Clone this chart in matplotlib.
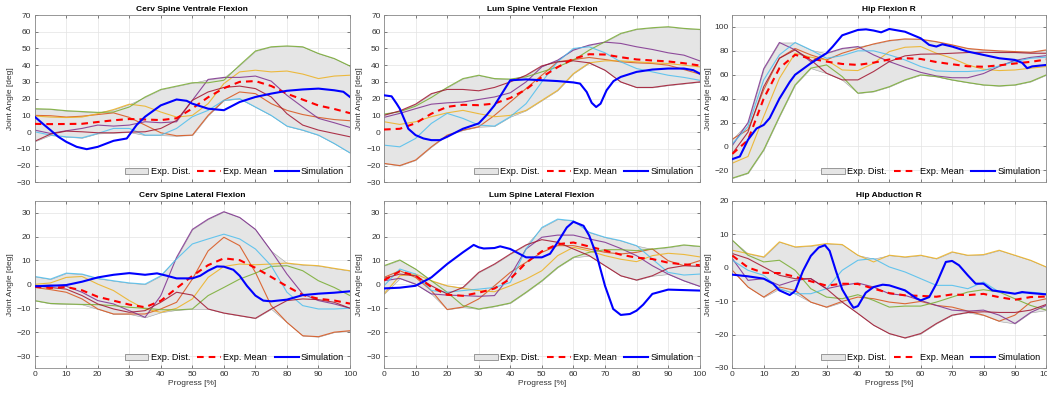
import numpy as np
import matplotlib
matplotlib.use("Agg")
import matplotlib.pyplot as plt
from matplotlib.patches import Patch
from matplotlib.lines import Line2D

plt.rcParams['font.family'] = ['Liberation Sans', 'DejaVu Sans']

# ---------------- data ----------------
progress = [0, 5, 10, 15, 20, 25, 30, 35, 40, 45, 50, 55, 60, 65, 70, 75, 80, 85, 90, 95, 100]

titles = ["Cerv Spine Ventrale Flexion", "Lum Spine Ventrale Flexion", "Hip Flexion R",
          "Cerv Spine Lateral Flexion", "Lum Spine Lateral Flexion", "Hip Abduction R"]
subject_colors = ["#D95319", "#EDB120", "#7E2F8E", "#77AC30", "#4DBEEE", "#A2142F"]

# Cerv Spine Ventrale Flexion
cvf_orange = [10, 9.8, 9, 9.5, 10.5, 11.5, 8.8, 4.2, -0.4, -2.2, -1.8, 10, 19, 24, 23, 17, 13, 10.5, 8.8, 7.5, 6.8]
cvf_yellow = [9.6, 9, 8.7, 9, 11, 13.5, 16.7, 15.5, 12, 9, 10, 17, 29, 36, 37, 36, 36.5, 34.7, 32, 33.5, 34]
cvf_purple = [1.2, -0.8, 0.8, 2.2, 4.2, 3.6, 4.2, 6.2, 5.6, 6.2, 19, 31.5, 32.7, 32.7, 33.5, 30.5, 22, 15, 8.2, 5.6, 2.8]
cvf_green = [14, 13.7, 12.8, 12.3, 11.8, 12, 15, 21, 25.5, 27.5, 29.5, 29.5, 31, 40, 48.5, 51, 51.5, 51, 47, 44, 39.5]
cvf_lblue = [0.2, -1.8, -2.8, -3.4, -0.8, 2.2, 2.2, -1.8, -1.8, 2.2, 9.2, 13, 19, 20, 15, 10, 3.6, 1.2, -1.8, -6.8, -12.4]
cvf_dred = [-5.5, -1.2, 0.6, 0.2, -0.4, -0.4, 0, 0.2, 2.2, 7, 19, 24, 26.7, 27.5, 26, 21, 11, 4.2, 1.2, -0.8, -2.8]
cvf_sim_x = [0, 2.7, 5, 7.5, 10, 13.3, 16.5, 20, 25, 29.2, 32.3, 35, 40, 45, 48.2, 50, 55, 60, 65, 70, 75, 80, 85, 90, 95, 97.9, 100]
cvf_sim_y = [9.2, 4.8, 1.2, -2.8, -5.8, -8.8, -10.2, -8.8, -5.2, -3.8, 4.2, 9.2, 16, 19.5, 18.7, 17, 14, 13.1, 18, 21, 23, 24.7, 25.5, 26, 25, 24.1, 21]

# Lum Spine Ventrale Flexion
lvf_orange = [-18.7, -20, -16.7, -8.8, -1.8, 1.2, 3.2, 10, 18, 26, 34, 42, 43.4, 44.6, 43.4, 42, 41.4, 41, 40, 37.4, 34.7]
lvf_yellow = [6.2, 4.6, 6.2, 9.2, 11.5, 13, 11, 9.2, 10, 13, 19, 25, 35, 41.4, 42.6, 42.6, 42, 41.4, 41, 40, 39]
lvf_purple = [8.8, 11.2, 14, 16.7, 17.5, 18, 19.5, 21, 23.5, 30, 39, 43, 49, 52, 53.8, 53, 51, 49.4, 47.4, 46, 42.6]
lvf_green = [10.8, 12.2, 15.5, 20.7, 26.7, 32, 34, 32, 31.7, 33, 36, 39, 43, 49, 54, 59, 61.5, 62.4, 63, 62, 61.4]
lvf_lblue = [-7.8, -8.8, -3.8, 5.2, 11.2, 8.2, 4.2, 3.6, 9.2, 17, 30, 42, 50, 51, 47.4, 42, 38, 36, 34, 32.7, 31]
lvf_dred = [10, 12.7, 16.7, 23, 25.5, 25.5, 24.7, 26.7, 30, 34, 39.6, 42, 42.6, 41.4, 37, 30, 26.7, 26.7, 28, 29, 30]
lvf_sim_x = [0, 2.4, 4, 5, 7.7, 10, 12.5, 15, 17.7, 20, 25, 30, 32.5, 35, 40, 45, 50, 55, 60, 62.1, 64.2, 65.8, 67.2, 68.6, 70.5, 72.7, 75, 80, 85, 90, 95, 98, 100]
lvf_sim_y = [22, 21.4, 17, 14, 2, -1.8, -3.8, -4.8, -4.8, -2.8, 2, 5.2, 10.2, 16, 31, 31.5, 31, 30.5, 29.7, 29, 24, 17.5, 15, 17, 25, 30.5, 33, 36, 37.4, 38, 38, 37, 35]

# Hip Flexion R
hf_orange = [6.1, 14, 47.4, 73.8, 82, 76.6, 72.4, 78, 82, 85.8, 88.6, 90, 89.7, 87.7, 85, 82, 80.8, 80, 79.4, 78.8, 80.8]
hf_yellow = [-14, -8.4, 25, 57, 78, 74.7, 72.4, 64, 63.5, 69.6, 79.4, 83, 83.6, 78, 73.8, 68.2, 64.6, 63.5, 64, 65.5, 66.9]
hf_purple = [0.8, 20, 65, 87, 80.8, 71, 78, 82, 83.6, 76.6, 71, 66.3, 62, 59, 57.5, 57.5, 61, 67, 72, 74.5, 76]
hf_green = [-26.5, -22.3, -2.8, 25, 51.5, 65.5, 68.2, 58.5, 44.6, 46, 50, 55.7, 59.9, 58.5, 55.7, 53.5, 51.5, 50.7, 51.5, 54.3, 59.9]
hf_lblue = [2.2, 16.7, 55.7, 76.6, 87, 80.8, 73.8, 76, 80, 80, 76.6, 72.4, 66.9, 63.2, 62.7, 62.7, 63.5, 67.4, 71, 73.8, 74.7]
hf_dred = [-6, 12, 50, 73.8, 80.8, 72.4, 61.3, 55.7, 55.7, 62.7, 71, 75.8, 77.2, 77.4, 78, 78.6, 78.8, 78.6, 78.6, 78, 78]
hf_sim_x = [0, 2.4, 5, 7.7, 10, 11.9, 15, 18.3, 20, 25, 30, 32, 35, 40, 42.6, 45, 47.4, 50, 55, 60, 62.7, 65, 66.9, 70, 75, 80, 85, 90, 92.3, 93.9, 95.5, 100]
hf_sim_y = [-10.6, -8.4, 5.6, 15, 18, 23.7, 40, 54, 60, 69.6, 78, 83.6, 93, 97.5, 98, 97, 95.5, 98.3, 96, 90.5, 85, 83.6, 85.5, 83.6, 79.4, 76.6, 73.8, 72.4, 70, 65.5, 67, 68.2]

# Cerv Spine Lateral Flexion
clf_orange = [-1.3, -2.2, -3.3, -6.1, -10.3, -12.4, -12.4, -12.4, -10.3, -7.5, 2.2, 14, 19.7, 16.2, 5, -8.9, -15.9, -21.5, -21.9, -20, -19.4]
clf_yellow = [0, 0.6, 2.9, 3.3, 0.1, -2.6, -6.8, -10.3, -11.7, -10, -6.1, 2.9, 7.5, 8.5, 8.2, 8.5, 8.9, 8.2, 7.8, 6.7, 5.7]
clf_purple = [-0.6, -0.3, -0.8, -3.3, -6.8, -8.2, -11, -13.8, -4.7, 11.3, 23, 27.3, 30.4, 28, 23, 14, 4.3, -4, -6.8, -8.2, -10]
clf_green = [-6.8, -8, -8.2, -8.4, -8.5, -8.9, -9.6, -10, -10.6, -10.7, -10.3, -4.7, -1.3, 2.2, 4.7, 7.5, 7.8, 5.7, 1.5, -1.3, -4.7]
clf_lblue = [3.3, 2.2, 4.7, 4.3, 2.5, 1.5, 0.6, 0.1, 3.6, 10.6, 16.9, 19, 21, 19, 14.8, 7.8, -3.3, -8.9, -10.3, -10.3, -10]
clf_dred = [-0.6, -1.3, -2, -4.7, -8.2, -10.3, -11.7, -11, -7.5, -3.3, -4.5, -10.3, -12, -13.1, -14.2, -10.3, -6.8, -6.1, -6.4, -7.5, -10]
clf_sim_x = [0, 5, 10, 15, 20, 25, 30, 35, 38.8, 41.9, 45, 50, 52.5, 55, 57.8, 60, 63, 65, 67.3, 70, 72.5, 75, 80, 85, 90, 95, 100]
clf_sim_y = [-0.8, -0.6, -0.3, 1.1, 2.9, 4, 4.7, 4, 4.6, 3.6, 2.5, 2.5, 3.6, 5.7, 7.5, 7.4, 6.1, 3.6, -0.6, -4.7, -6.8, -7.1, -6.4, -4.5, -3.9, -3.5, -2.9]

# Lum Spine Lateral Flexion
llf_orange = [2.9, 5.7, 2.9, -2.6, -10.5, -9.5, -6.1, -0.6, 5, 9.2, 13.4, 16.2, 16.2, 14.8, 13.4, 12.7, 13.4, 14.8, 9.9, 7.8, 9.9]
llf_yellow = [-4, 3.6, 4.3, 1.5, -0.6, -1.7, -2.6, -3.1, -0.6, 2.2, 5.7, 12, 15.5, 14, 12, 10.5, 9.5, 12, 13, 12.5, 11.5]
llf_purple = [1.5, 2.5, 0.1, -4, -4.5, -4.7, -5, -4.7, 3.6, 14.8, 19.7, 20.6, 20.6, 19, 17.6, 15, 12, 7.8, 4.3, 1.5, -0.8]
llf_green = [7.8, 10.2, 6.4, 1.5, -3.3, -8.9, -10.3, -9.2, -7.8, -3.3, 1.5, 7.1, 11.3, 13.4, 14.5, 14.5, 14.1, 14.8, 15.5, 16.5, 15.9]
llf_lblue = [-0.6, 6.4, 4.3, -2.6, -3.3, -2.6, -2, -1.3, 0.8, 14.8, 23.8, 27.3, 26.6, 21.8, 19.7, 18.3, 16.2, 10.6, 5, 3.9, 4.3]
llf_dred = [2.5, 4.3, 3.6, -0.6, -4, -1.3, 5, 8.5, 12.7, 16.5, 18.7, 17.6, 14.8, 12, 7.8, 3.6, 1.8, 3.6, 6.7, 7.8, 7.5]
llf_sim_x = [0, 5, 10, 15, 20, 25, 28.4, 30, 31.6, 35, 36.8, 40, 45, 50, 52.6, 55, 57.9, 60, 63.2, 65, 67.4, 70, 72.6, 75, 77.9, 80, 82.1, 85, 90, 95, 100]
llf_sim_y = [-1.7, -1.4, -0.6, 2.9, 8.5, 13.4, 16.5, 15.5, 15, 15.2, 15.9, 14.8, 11.3, 11.3, 12.8, 17.6, 23.8, 26.2, 24.5, 20.4, 12, -0.6, -10.3, -12.8, -12.4, -11, -8.5, -4, -2.2, -2.4, -2.6]

# Hip Abduction R
ha_orange = [-0.8, -5.8, -8.8, -5.8, -6.8, -10.3, -11.8, -10.1, -8.8, -9.3, -10.3, -10.8, -10.1, -11.3, -11.8, -13, -14.2, -16, -14.2, -10.3, -9.3]
ha_yellow = [5.2, 4.2, 3.2, 7.7, 6.2, 6.5, 7.2, 6.9, 3.7, 1.7, 3.7, 3.2, 3.7, 2.7, 4.7, 3.7, 3.9, 5.2, 3.7, 2.2, 0.2]
ha_purple = [2.7, -3.8, -3.3, -5.3, -3.8, -3.3, -6.3, -5.3, -4.6, -5.8, -7.8, -8.3, -9.8, -11.3, -12.7, -13, -12.7, -14.2, -16.7, -13.4, -11.3]
ha_green = [8.2, 3.7, 1.7, 2.2, -0.8, -6.3, -8.8, -9.3, -8.1, -9.8, -11.8, -11.5, -11.5, -10.3, -8.8, -7.3, -6.6, -7.3, -9.3, -11.3, -12.7]
ha_lblue = [2.2, -0.8, -2.3, -6.3, -7.8, -7.8, -6.3, -0.8, 2.2, 2.7, 0.2, -1.3, -3.3, -5.3, -5.3, -6.3, -4.3, -7.3, -7.8, -7.3, -7.8]
ha_dred = [4.2, 2.7, 0.2, -2.3, -3.3, -3.3, -6.3, -10.3, -13.7, -17.2, -19.7, -21, -19.7, -16.7, -14.2, -13.4, -13.2, -13.4, -13.4, -12.7, -11]
ha_sim_x = [0, 5, 10, 13, 15, 18.3, 20, 22.5, 25, 27.5, 29.5, 31, 33, 35, 37.5, 38.6, 40, 42.5, 45, 47.9, 50, 55, 58.5, 60, 62.7, 65, 68, 70, 72.2, 75, 77.5, 80, 82.8, 85, 90, 92.3, 95, 100]
ha_sim_y = [-2.1, -2.6, -3.3, -4.8, -6.8, -8.2, -7, -1, 3.5, 6, 6.7, 5, -1, -6.5, -10.5, -12, -11.5, -7.5, -5.8, -5.1, -5.3, -6.8, -9.1, -9.8, -8.8, -4.8, 1.7, 2, 0.7, -2.3, -4.8, -4.8, -6.8, -7.1, -7.8, -7.3, -7.6, -8]

panel_subjects = [
    [cvf_orange, cvf_yellow, cvf_purple, cvf_green, cvf_lblue, cvf_dred],
    [lvf_orange, lvf_yellow, lvf_purple, lvf_green, lvf_lblue, lvf_dred],
    [hf_orange, hf_yellow, hf_purple, hf_green, hf_lblue, hf_dred],
    [clf_orange, clf_yellow, clf_purple, clf_green, clf_lblue, clf_dred],
    [llf_orange, llf_yellow, llf_purple, llf_green, llf_lblue, llf_dred],
    [ha_orange, ha_yellow, ha_purple, ha_green, ha_lblue, ha_dred],
]
panel_sims = [(cvf_sim_x, cvf_sim_y), (lvf_sim_x, lvf_sim_y), (hf_sim_x, hf_sim_y),
              (clf_sim_x, clf_sim_y), (llf_sim_x, llf_sim_y), (ha_sim_x, ha_sim_y)]
ylims = [(-30, 70), (-30, 70), (-30, 110), (-35, 35), (-35, 35), (-30, 20)]
yticks = [np.arange(-30, 71, 10), np.arange(-30, 71, 10), np.arange(-20, 101, 20),
          np.arange(-30, 31, 10), np.arange(-30, 31, 10), np.arange(-30, 21, 10)]

# ---------------- figure ----------------
W, H = 1047, 394
fig = plt.figure(figsize=(W / 100, H / 100), dpi=100)

lefts = [34.7, 384.0, 732.3]
widths = [315.3, 315.7, 314.0]
tops = [15.0, 200.7]
ah = 167.3

axis_col = "#4d4d4d"
fs = 6.0

for i in range(6):
    r, c = divmod(i, 3)
    ax = fig.add_axes([lefts[c] / W, 1 - (tops[r] + ah) / H, widths[c] / W, ah / H])
    subj = np.array(panel_subjects[i], dtype=float)
    lo = subj.min(axis=0)
    hi = subj.max(axis=0)
    mean = subj.mean(axis=0)
    ax.fill_between(progress, lo, hi, facecolor="#e5e5e5", edgecolor="#a0a0a0", linewidth=0.4, zorder=1)
    for s, col in zip(panel_subjects[i], subject_colors):
        ax.plot(progress, s, color=col, lw=0.8, alpha=0.85, zorder=2)
    ax.plot(progress, mean, color="#ff0000", lw=1.5, ls=(0, (3.2, 2.4)), zorder=4)
    sx, sy = panel_sims[i]
    ax.plot(sx, sy, color="#0000ff", lw=1.5, zorder=5)

    ax.set_xlim(0, 100)
    ax.set_ylim(*ylims[i])
    ax.set_xticks(np.arange(0, 101, 10))
    ax.set_yticks(yticks[i])
    ax.grid(True, color="#e3e3e3", lw=0.5, zorder=0)
    ax.set_axisbelow(True)
    ax.tick_params(direction="in", length=2.5, width=0.5, colors=axis_col, labelsize=fs,
                   top=True, right=True, pad=2.5, labelcolor="#333333")
    for sp in ax.spines.values():
        sp.set_color("#8a8a8a")
        sp.set_linewidth(0.6)
    if r == 0:
        ax.set_xticklabels([])
    else:
        ax.set_xlabel("Progress [%]", fontsize=fs, color="#333333", labelpad=1)
    ax.set_ylabel("Joint Angle [deg]", fontsize=fs, color="#333333", labelpad=2)
    ax.set_title(titles[i], fontsize=6, fontweight="bold", pad=3)

    handles = [Patch(facecolor="#e5e5e5", edgecolor="#8a8a8a", linewidth=0.6),
               Line2D([], [], color="#ff0000", lw=1.5, ls=(0, (3.2, 2.4))),
               Line2D([], [], color="#0000ff", lw=1.5)]
    ax.legend(handles, ["Exp. Dist.", "Exp. Mean", "Simulation"], ncol=3, loc="lower right",
              frameon=False, fontsize=6.6, handlelength=2.6, handletextpad=0.25,
              columnspacing=0.8, borderaxespad=0.25)

fig.savefig("out.png", dpi=100)
